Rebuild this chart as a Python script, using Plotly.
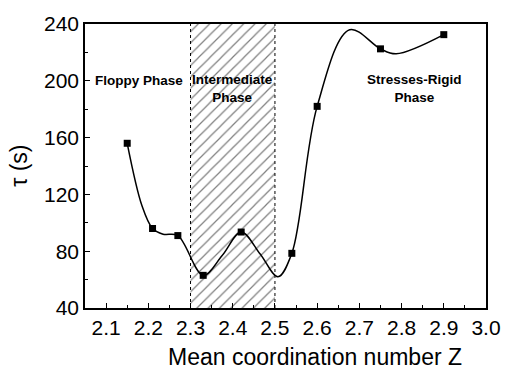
import plotly.graph_objects as go

# measured data points
z_pts = [2.15, 2.21, 2.27, 2.33, 2.42, 2.54, 2.60, 2.75, 2.90]
tau_pts = [156, 96, 91, 63, 93.5, 78.5, 182, 222.5, 232.5]

# smooth guide curve
z_curve = [2.15, 2.185, 2.21, 2.235, 2.27, 2.33, 2.375, 2.42, 2.465, 2.507, 2.54, 2.60, 2.677, 2.75, 2.787, 2.90]
tau_curve = [156, 112, 96, 92, 91, 63, 77, 93.5, 78, 62, 78.5, 182, 236, 222.5, 219, 232.5]

phase_bounds = [2.3, 2.5]
y_range = [40, 240]

labels = [
    ("Floppy Phase", 2.178, 200),
    ("Intermediate<br>Phase", 2.399, 194.5),
    ("Stresses-Rigid<br>Phase", 2.83, 194.5),
]

font = "Arial, Liberation Sans, sans-serif"

fig = go.Figure()

# hatched intermediate region
fig.add_trace(go.Scatter(
    x=[phase_bounds[0], phase_bounds[1], phase_bounds[1], phase_bounds[0], phase_bounds[0]],
    y=[y_range[0], y_range[0], y_range[1], y_range[1], y_range[0]],
    mode="lines", line=dict(width=0), fill="toself",
    fillcolor="rgba(0,0,0,0)",
    fillpattern=dict(shape="/", size=8, solidity=0.15, fgcolor="black", bgcolor="white"),
    hoverinfo="skip", showlegend=False,
))
for b in phase_bounds:
    fig.add_trace(go.Scatter(x=[b, b], y=y_range, mode="lines",
                             line=dict(color="black", width=1, dash="dot"),
                             showlegend=False, hoverinfo="skip"))

fig.add_trace(go.Scatter(x=z_curve, y=tau_curve, mode="lines",
                         line=dict(color="black", width=1.5, shape="spline", smoothing=1.0),
                         showlegend=False))
fig.add_trace(go.Scatter(x=z_pts, y=tau_pts, mode="markers",
                         marker=dict(symbol="square", size=7, color="black"),
                         showlegend=False))

for txt, x, y in labels:
    fig.add_annotation(x=x, y=y, text="<b>%s</b>" % txt, showarrow=False,
                       font=dict(family=font, size=13.5, color="black"), align="center")

# axis titles
fig.add_annotation(xref="paper", yref="paper", x=0.573, y=-0.174, text="Mean coordination number Z",
                   showarrow=False, xanchor="center", yanchor="middle",
                   font=dict(family=font, size=23, color="black"))
fig.add_annotation(xref="paper", yref="paper", x=-0.165, y=0.5, text="τ (s)", textangle=-90,
                   showarrow=False, xanchor="center", yanchor="middle",
                   font=dict(family=font, size=23, color="black"))

axis_common = dict(showline=True, linecolor="black", linewidth=1.5, mirror=True,
                   ticks="inside", ticklen=5, tickwidth=1, tickcolor="black",
                   showgrid=False, zeroline=False,
                   tickfont=dict(family=font, size=21, color="black"))

fig.update_xaxes(range=[2.05, 3.0], tick0=2.0, dtick=0.1, tickformat=".1f",
                 minor=dict(ticks="inside", dtick=0.05, tick0=2.0, ticklen=3, tickcolor="black"),
                 **axis_common)
fig.update_yaxes(range=y_range, tick0=0, dtick=40,
                 minor=dict(ticks="inside", dtick=20, tick0=0, ticklen=3, tickcolor="black"),
                 **axis_common)

fig.update_layout(width=513, height=377, margin=dict(l=85, r=16, t=19, b=69),
                  plot_bgcolor="white", paper_bgcolor="white", showlegend=False)

fig.write_html("out.html")
